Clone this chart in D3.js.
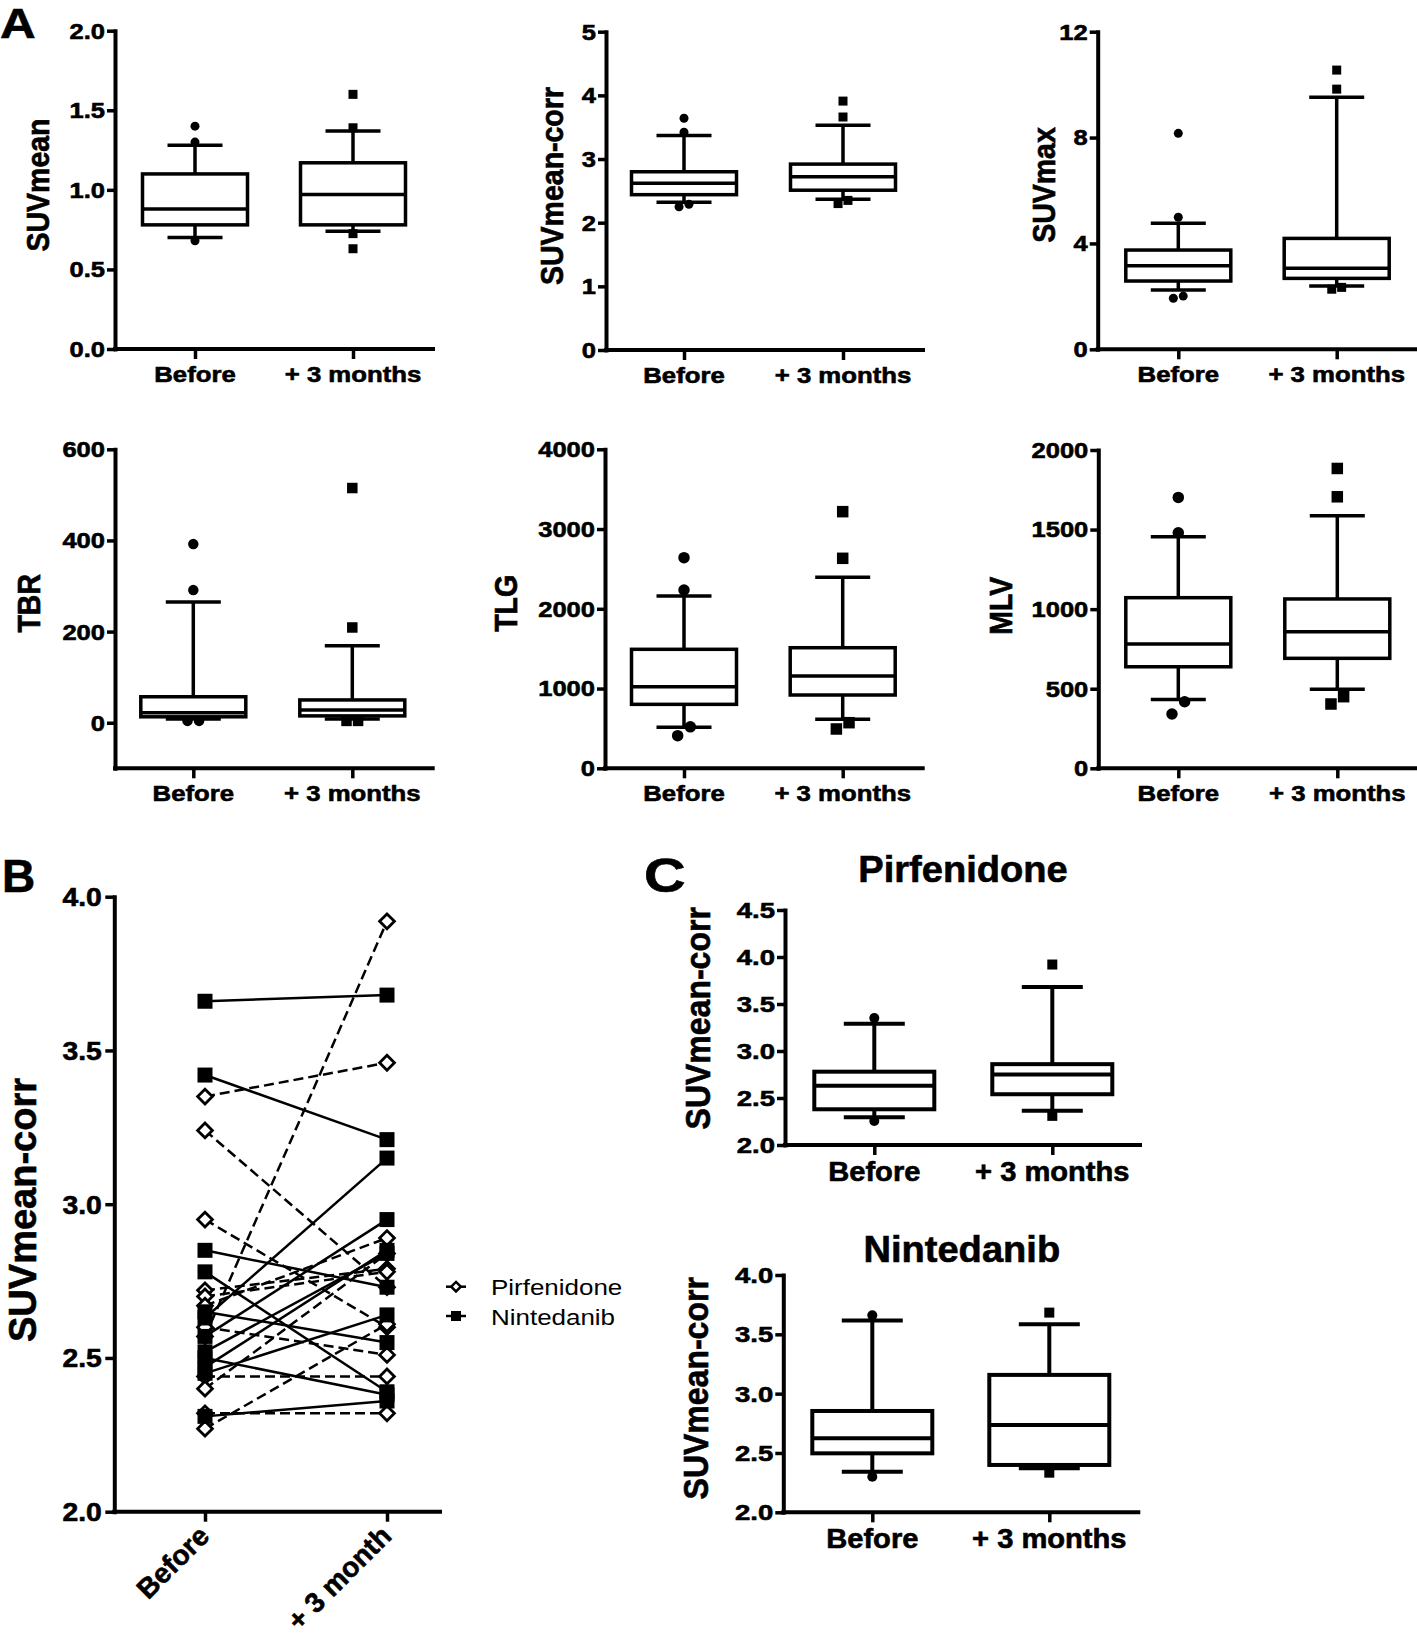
<!DOCTYPE html>
<html>
<head>
<meta charset="utf-8">
<script src="https://cdn.jsdelivr.net/npm/d3@7"></script>
<style>
body { margin: 0; background: #fff; }
svg { display: block; }
text { font-family: "Liberation Sans", Arial, sans-serif; font-weight: bold; fill: #000; }
</style>
</head>
<body>
<svg id="fig" width="1417" height="1636"></svg>
<script>
// categories
const groups = ["Before", "+ 3 months"];
const pairGroups = ["Before", "+ 3 month"];
const drugs = ["Pirfenidone", "Nintedanib"];

// box summaries per group: [whisker low, Q1, median, Q3, whisker high]
const suvMeanBox = [[0.70, 0.78, 0.88, 1.10, 1.28], [0.74, 0.78, 0.97, 1.17, 1.37]];
const suvMeanOut = [[1.40, 1.30, 0.68], [1.60, 1.39, 0.725, 0.63]];
const suvCorrBox = [[2.32, 2.44, 2.62, 2.80, 3.37], [2.37, 2.51, 2.72, 2.92, 3.53]];
const suvCorrOut = [[3.64, 3.42, 2.25, 2.29], [3.91, 3.66, 2.35, 2.30]];
const suvMaxBox = [[2.24, 2.58, 3.16, 3.75, 4.76], [2.39, 2.68, 3.06, 4.19, 9.52]];
const suvMaxOut = [[8.16, 4.99, 1.93, 2.01], [10.55, 9.83, 2.27, 2.34]];
const tbrBox = [[8, 13, 22, 57, 265], [8, 15, 28, 50, 169]];
const tbrOut = [[392, 291, 4, 4], [515, 209, 4, 4]];
const tlgBox = [[514, 802, 1023, 1492, 2160], [614, 919, 1157, 1512, 2395]];
const tlgOut = [[2641, 2236, 520, 409], [3218, 2633, 572, 493]];
const mlvBox = [[433, 638, 781, 1072, 1455], [496, 691, 858, 1064, 1587]];
const mlvOut = [[1702, 1480, 418, 341], [1884, 1706, 450, 404]];

// panel C
const pirfBox = [[2.295, 2.38, 2.63, 2.78, 3.29], [2.365, 2.54, 2.75, 2.86, 3.68]];
const pirfOut = [[3.35, 2.255], [3.92, 2.31]];
const ninBox = [[2.342, 2.497, 2.624, 2.854, 3.616], [2.371, 2.399, 2.736, 3.158, 3.585]];
const ninOut = [[3.66, 2.30], [3.683, 2.334]];

// panel B, paired patients (before, after)
const pirfBefore = [3.35, 3.24, 2.95, 2.57, 2.72, 2.70, 2.67, 2.60, 2.44, 2.40, 2.32, 2.27];
const pirfAfter  = [3.46, 2.73, 2.60, 3.92, 2.79, 2.78, 2.89, 2.51, 2.44, 2.84, 2.32, 2.61];
const ninBefore  = [3.66, 3.42, 2.85, 2.78, 2.63, 2.57, 2.52, 2.45, 2.50, 2.65, 2.31, 2.47];
const ninAfter   = [3.68, 3.21, 2.73, 2.39, 3.15, 2.95, 2.84, 2.64, 2.38, 2.55, 2.36, 2.85];

const svg = d3.select("#fig");

// text helper, sx stretches glyphs horizontally like the source figure
function label(g, str, x, y, size, o) {
    o = o || {};
    const t = g.append("text")
        .attr("transform", `translate(${x},${y}) scale(${o.sx || 1},1) rotate(${o.rot || 0})`)
        .attr("text-anchor", o.anchor || "middle")
        .style("font-size", size + "px")
        .style("font-weight", o.weight || "bold")
        .text(str);
    if (!o.weight) t.attr("stroke", "#000").attr("stroke-width", 0.6);
    return t;
}

function boxPanel(c) {
    const g = svg.append("g");
    const y = d3.scaleLinear().domain(c.domain).range([c.bottom, c.top]);
    const x = d3.scalePoint().domain(groups).range(c.cats);
    const fmt = d3.format(c.fmt);
    const sw = c.sw || 3.5;

    // y axis
    const ya = g.append("g").attr("transform", `translate(${c.left},0)`)
        .call(d3.axisLeft(y).tickValues(c.ticks).tickSize(8).tickSizeOuter(0).tickFormat(""));
    ya.select(".domain").attr("stroke-width", 4).attr("stroke-linecap", "square");
    ya.selectAll(".tick line").attr("stroke-width", 3.5);
    c.ticks.forEach(t => label(g, fmt(t), c.left - 10, y(t) + c.tickSize * 0.36, c.tickSize, {anchor: "end", sx: c.tickSx}));

    // x axis
    g.append("line").attr("x1", c.left).attr("x2", c.right).attr("y1", c.bottom).attr("y2", c.bottom)
        .attr("stroke", "#000").attr("stroke-width", 4).attr("stroke-linecap", "square");
    const xa = g.append("g").attr("transform", `translate(0,${c.bottom})`)
        .call(d3.axisBottom(x).tickSize(10).tickFormat(""));
    xa.select(".domain").remove();
    xa.selectAll(".tick line").attr("stroke-width", 3.5);
    groups.forEach(k => label(g, k, x(k), c.bottom + c.labelDy, c.labelSize, {sx: c.labelSx}));

    // y title
    label(g, c.title, c.titleX, c.titleY, c.titleSize, {rot: -90, sx: c.titleSx});
    if (c.heading) label(g, c.heading, (c.left + c.right) / 2 + c.headDx, c.headY, 37, {sx: 1.03});

    c.box.forEach((s, i) => {
        const cx = x(groups[i]);
        const [lo, q1, med, q3, hi] = s;
        const bw = c.bw, cw = c.cap;
        const seg = (x1, y1, x2, y2) => g.append("line").attr("x1", x1).attr("y1", y1).attr("x2", x2).attr("y2", y2)
            .attr("stroke", "#000").attr("stroke-width", sw);
        seg(cx, y(hi), cx, y(q3));
        seg(cx, y(q1), cx, y(lo));
        seg(cx - cw / 2, y(hi), cx + cw / 2, y(hi));
        seg(cx - cw / 2, y(lo), cx + cw / 2, y(lo));
        g.append("rect").attr("x", cx - bw / 2).attr("y", y(q3)).attr("width", bw).attr("height", y(q1) - y(q3))
            .attr("fill", "none").attr("stroke", "#000").attr("stroke-width", sw);
        seg(cx - bw / 2, y(med), cx + bw / 2, y(med));

        // outliers, nudged sideways when they touch
        const ms = c.ms;
        const pts = c.out[i].map(v => ({v: v, py: y(v), dx: 0})).sort((a, b) => a.py - b.py);
        for (let k = 1; k < pts.length; k++) {
            if (pts[k].py - pts[k - 1].py < ms + 2) {
                pts[k - 1].dx = ms * 0.55;
                pts[k].dx = -ms * 0.55;
            }
        }
        pts.forEach(p => {
            if (i === 0) {
                g.append("circle").attr("cx", cx + p.dx).attr("cy", p.py).attr("r", ms / 2);
            } else {
                g.append("rect").attr("x", cx + p.dx - ms / 2).attr("y", p.py - ms / 2).attr("width", ms).attr("height", ms);
            }
        });
    });
}

const aStyle = {fmt: ".1f", tickSize: 22, tickSx: 1.16, labelSize: 22, labelSx: 1.17, labelDy: 32.5,
    titleSize: 28.5, titleSx: 1.11, bw: 105, cap: 55};

const panels = [
    {box: suvMeanBox, out: suvMeanOut, title: "SUVmean", domain: [0, 2], ticks: [0, 0.5, 1, 1.5, 2],
        left: 115, right: 433, top: 30.7, bottom: 349, cats: [195, 353], titleX: 49.3, titleY: 185, ms: 9},
    {box: suvCorrBox, out: suvCorrOut, title: "SUVmean-corr", domain: [0, 5], ticks: [0, 1, 2, 3, 4, 5], fmt: "d",
        left: 606, right: 923, top: 31.7, bottom: 350, cats: [684, 843], titleX: 563.3, titleY: 186, ms: 9},
    {box: suvMaxBox, out: suvMaxOut, title: "SUVmax", domain: [0, 12], ticks: [0, 4, 8, 12], fmt: "d",
        left: 1097.7, right: 1417, top: 31.7, bottom: 349.3, cats: [1178.3, 1336.7], titleX: 1055, titleY: 185, ms: 9},
    {box: tbrBox, out: tbrOut, title: "TBR", domain: [-100, 600], ticks: [0, 200, 400, 600], fmt: "d",
        left: 115, right: 432.7, top: 449.3, bottom: 768.3, cats: [193.3, 352.3], titleX: 40, titleY: 603.3, ms: 10.5},
    {box: tlgBox, out: tlgOut, title: "TLG", domain: [0, 4000], ticks: [0, 1000, 2000, 3000, 4000], fmt: "d",
        left: 605, right: 922.7, top: 449.3, bottom: 768.3, cats: [684, 842.7], titleX: 516.7, titleY: 603.3, ms: 11.5},
    {box: mlvBox, out: mlvOut, title: "MLV", domain: [0, 2000], ticks: [0, 500, 1000, 1500, 2000], fmt: "d",
        left: 1098.3, right: 1417, top: 450, bottom: 768.3, cats: [1178.3, 1337.3], titleX: 1011.7, titleY: 605.8, ms: 11.5}
];
panels.forEach(p => boxPanel(Object.assign({}, aStyle, p)));

// panel C
const cStyle = {fmt: ".1f", tickSize: 22, tickSx: 1.25, labelSize: 28, labelSx: 1.04, labelDy: 36,
    titleSize: 32, titleSx: 1.09, bw: 120, cap: 61, ms: 10, sw: 4, headDx: 0};
boxPanel(Object.assign({}, cStyle, {box: pirfBox, out: pirfOut, title: "SUVmean-corr", heading: drugs[0],
    domain: [2, 4.5], ticks: [2, 2.5, 3, 3.5, 4, 4.5], left: 785, right: 1140, top: 910, bottom: 1145,
    cats: [874.3, 1052.3], titleX: 710, titleY: 1018.3, headY: 881.7, headDx: 0.5}));
boxPanel(Object.assign({}, cStyle, {box: ninBox, out: ninOut, title: "SUVmean-corr", heading: drugs[1],
    domain: [2, 4], ticks: [2, 2.5, 3, 3.5, 4], left: 783.3, right: 1138.3, top: 1275, bottom: 1512.3,
    cats: [872.3, 1049.3], titleX: 708.3, titleY: 1388.3, headY: 1261.7, headDx: 1}));

// panel B, before/after pairs
const bg = svg.append("g");
const by = d3.scaleLinear().domain([2, 4]).range([1511.7, 896.7]);
const bx = d3.scalePoint().domain(pairGroups).range([205, 387]);
const bLeft = 114.3, bRight = 440;

const bya = bg.append("g").attr("transform", `translate(${bLeft},0)`)
    .call(d3.axisLeft(by).tickValues([2, 2.5, 3, 3.5, 4]).tickSize(9).tickSizeOuter(0).tickFormat(""));
bya.select(".domain").attr("stroke-width", 4).attr("stroke-linecap", "square");
bya.selectAll(".tick line").attr("stroke-width", 3.5);
[2, 2.5, 3, 3.5, 4].forEach(t => label(bg, d3.format(".1f")(t), bLeft - 12.5, by(t) + 9.3, 26, {anchor: "end", sx: 1.09}));
bg.append("line").attr("x1", bLeft).attr("x2", bRight).attr("y1", by(2)).attr("y2", by(2))
    .attr("stroke", "#000").attr("stroke-width", 4).attr("stroke-linecap", "square");
const bxa = bg.append("g").attr("transform", `translate(0,${by(2)})`)
    .call(d3.axisBottom(bx).tickSize(10).tickFormat(""));
bxa.select(".domain").remove();
bxa.selectAll(".tick line").attr("stroke-width", 3.5);
pairGroups.forEach(k => label(bg, k, bx(k) + 6, by(2) + 26, 28, {anchor: "end", rot: -45}));
label(bg, "SUVmean-corr", 36, 1210, 38, {rot: -90, sx: 1.02});

const line = d3.line().x(d => bx(d[0])).y(d => by(d[1]));
pirfBefore.forEach((v, i) => {
    bg.append("path").attr("d", line([[pairGroups[0], v], [pairGroups[1], pirfAfter[i]]]))
        .attr("fill", "none").attr("stroke", "#000").attr("stroke-width", 2.5).attr("stroke-dasharray", "10,5");
});
ninBefore.forEach((v, i) => {
    bg.append("path").attr("d", line([[pairGroups[0], v], [pairGroups[1], ninAfter[i]]]))
        .attr("fill", "none").attr("stroke", "#000").attr("stroke-width", 2.5);
});
const diamond = d3.symbol().type(d3.symbolDiamond2).size(Math.pow(7.4 / 0.62625, 2));
const square = d3.symbol().type(d3.symbolSquare).size(15 * 15);
pirfBefore.concat(pirfAfter).forEach((v, i) => {
    const k = i < pirfBefore.length ? 0 : 1;
    bg.append("path").attr("d", diamond()).attr("transform", `translate(${bx(pairGroups[k])},${by(v)})`)
        .attr("fill", "#fff").attr("stroke", "#000").attr("stroke-width", 2.8);
});
ninBefore.concat(ninAfter).forEach((v, i) => {
    const k = i < ninBefore.length ? 0 : 1;
    bg.append("path").attr("d", square()).attr("transform", `translate(${bx(pairGroups[k])},${by(v)})`);
});

// legend
const lg = svg.append("g");
const legendY = [1286.7, 1316];
drugs.forEach((d, i) => {
    lg.append("line").attr("x1", 446).attr("x2", 466).attr("y1", legendY[i]).attr("y2", legendY[i])
        .attr("stroke", "#000").attr("stroke-width", 2.5);
    const sym = i === 0 ? d3.symbol().type(d3.symbolDiamond2).size(Math.pow(4.8 / 0.62625, 2))
                        : d3.symbol().type(d3.symbolSquare).size(10 * 10);
    lg.append("path").attr("d", sym()).attr("transform", `translate(456,${legendY[i]})`)
        .attr("fill", i === 0 ? "#fff" : "#000").attr("stroke", "#000").attr("stroke-width", i === 0 ? 2.5 : 0);
    label(lg, d, 491, legendY[i] + 8.5, 22, {anchor: "start", weight: "normal", sx: 1.18});
});

// panel letters
label(svg, "A", 0, 38, 43, {anchor: "start", sx: 1.15});
label(svg, "B", 2, 892, 46, {anchor: "start"});
label(svg, "C", 644, 892, 48, {anchor: "start", sx: 1.2});
</script>
</body>
</html>
